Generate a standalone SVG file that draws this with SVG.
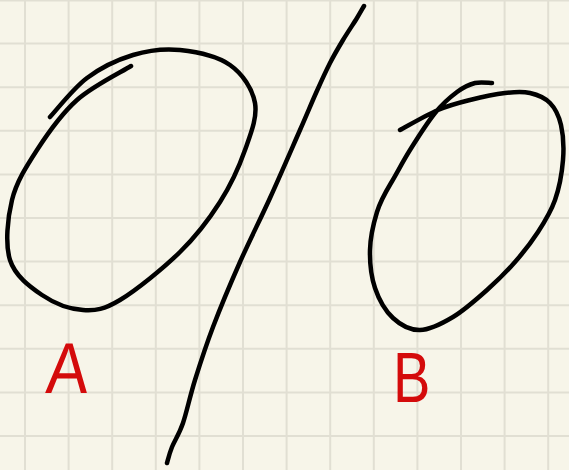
<svg xmlns="http://www.w3.org/2000/svg" width="569" height="470" viewBox="0 0 569 470">
  <style>
    .grid { fill: none; stroke: #e1dfd3; stroke-width: 2; }
    .ink { fill: none; stroke: #000000; stroke-width: 4.5; stroke-linecap: round; stroke-linejoin: round; }
    .label { font-family: "Liberation Sans", Arial, sans-serif; font-size: 70px; fill: #d40b0b; }
  </style>
  <rect id="paper" x="0" y="0" width="569" height="470" fill="#f7f5e9"/>
  <path id="grid" class="grid" d="M25,0V470 M68.6,0V470 M112.2,0V470 M155.8,0V470 M199.4,0V470 M243,0V470 M286.6,0V470 M330.2,0V470 M373.8,0V470 M417.4,0V470 M461,0V470 M504.6,0V470 M548.2,0V470 M0,0.5H569 M0,43.6H569 M0,87.2H569 M0,130.8H569 M0,174.4H569 M0,218H569 M0,261.6H569 M0,305.2H569 M0,348.8H569 M0,392.4H569 M0,436H569"/>
  <g id="shape-a">
    <path class="ink" d="M50,117 C56.2,110.5 73.2,88.3 87,78 C100.8,67.7 117.5,59.7 133,55 C148.5,50.3 163.8,48.3 180,50 C196.2,51.7 217.5,56.2 230,65 C242.5,73.8 252.5,88.8 255,103 C257.5,117.2 250.8,133.5 245,150 C239.2,166.5 230.8,185 220,202 C209.2,219 196.7,235.7 180,252 C163.3,268.3 136.2,290.3 120,300 C103.8,309.7 96,310.8 83,310 C70,309.2 54.2,303.3 42,295 C29.8,286.7 15,275.8 10,260 C5,244.2 7.5,218.3 12,200 C16.5,181.7 26.2,166.7 37,150 C47.8,133.3 61.3,114 77,100 C92.7,86 122,71.7 131,66"/>
  </g>
  <g id="divider">
    <path class="ink" d="M364,6 C362.8,8 360.5,12.3 357,18 C353.5,23.7 347.5,32.5 343,40 C338.5,47.5 334.5,54.2 330,63 C325.5,71.8 321,81.8 316,93 C311,104.2 307.7,112.5 300,130 C292.3,147.5 280,176 270,198 C260,220 249.5,240.5 240,262 C230.5,283.5 220.5,307.3 213,327 C205.5,346.7 200,364 195,380 C190,396 186.8,411.8 183,423 C179.2,434.2 174.7,440.3 172,447 C169.3,453.7 167.8,460.3 167,463"/>
  </g>
  <g id="shape-b">
    <path class="ink" d="M400,130 C406.3,126.7 426.3,115 438,110 C449.7,105 458.8,102.8 470,100 C481.2,97.2 495,94.2 505,93 C515,91.8 522.5,91.3 530,93 C537.5,94.7 544.8,97.7 550,103 C555.2,108.3 558.8,115.5 561,125 C563.2,134.5 564,147.5 563,160 C562,172.5 559.2,188 555,200 C550.8,212 544.7,221.7 538,232 C531.3,242.3 523.5,252.3 515,262 C506.5,271.7 497.3,280.8 487,290 C476.7,299.2 464.2,310.3 453,317 C441.8,323.7 430,329.8 420,330 C410,330.2 400.5,325 393,318 C385.5,311 378.8,299.3 375,288 C371.2,276.7 369.7,262.7 370,250 C370.3,237.3 373.7,222.8 377,212 C380.3,201.2 385,193 391,183 C397,173 402.5,162 410,150 C417.5,138 427.2,122.7 435,113 C442.8,103.3 450.3,97 457,92 C463.7,87 469.2,84.5 475,83 C480.8,81.5 489.2,83 492,83"/>
  </g>
  <g id="label-a">
    <text class="label" transform="translate(45,393) scale(0.9,1.03) skewX(-4)">A</text>
  </g>
  <g id="label-b">
    <text class="label" transform="translate(393,402) scale(0.8,1)">B</text>
  </g>
</svg>
